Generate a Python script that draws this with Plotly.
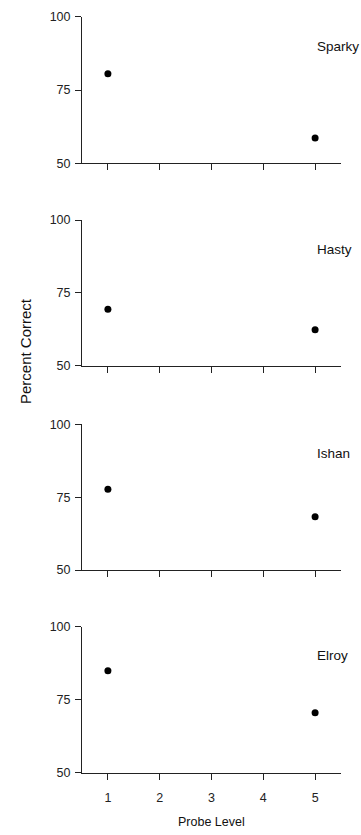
import plotly.graph_objects as go

subjects = ["Sparky", "Hasty", "Ishan", "Elroy"]
probe_levels = [1, 5]
sparky = [80.5, 58.6]
hasty = [69.4, 62.3]
ishan = [77.7, 68.3]
elroy = [84.9, 70.5]
series = [sparky, hasty, ishan, elroy]
x_ticks = [1, 2, 3, 4, 5]
y_ticks = [50, 75, 100]

W, H = 361, 835
# panel vertical pixel extents (top, bottom)
panels_px = [(16.7, 163.3), (220, 365.7), (424.3, 570), (626.7, 772.7)]

FONT = "Liberation Sans, Arial, sans-serif"

fig = go.Figure()
layout = dict(
    width=W, height=H,
    margin=dict(l=82, r=20, t=0, b=0, autoexpand=False),
    paper_bgcolor="white", plot_bgcolor="white",
    showlegend=False,
    font=dict(family=FONT, size=12, color="#111"),
)
annotations = []
for i, (name, vals) in enumerate(zip(subjects, series)):
    k = "" if i == 0 else str(i + 1)
    fig.add_trace(go.Scatter(
        x=probe_levels, y=vals, mode="markers",
        marker=dict(color="black", size=7),
        xaxis="x" + k, yaxis="y" + k, cliponaxis=False,
    ))
    top, bot = panels_px[i]
    last = (i == len(subjects) - 1)
    layout["xaxis" + k] = dict(
        domain=[0, 1], range=[0.5, 5.5], anchor="y" + k,
        tickvals=x_ticks, showticklabels=last,
        ticks="outside", ticklen=6, tickcolor="#222", tickwidth=1,
        showline=True, linecolor="#222", linewidth=1,
        showgrid=False, zeroline=False, fixedrange=True, automargin=False,
        ticklabelstandoff=7,
        tickfont=dict(family=FONT, size=12.5, color="#222"),
    )
    layout["yaxis" + k] = dict(
        domain=[1 - bot / H, 1 - top / H], range=[50, 100], anchor="x" + k,
        tickvals=y_ticks, ticks="outside", ticklen=6, tickcolor="#222", tickwidth=1,
        showline=True, linecolor="#222", linewidth=1,
        showgrid=False, zeroline=False, fixedrange=True, automargin=False,
        ticklabelstandoff=2,
        tickfont=dict(family=FONT, size=12.5, color="#222"),
    )
    annotations.append(dict(
        x=5, y=90, xref="x" + k, yref="y" + k, text=name, showarrow=False,
        xanchor="left", yanchor="middle",
        font=dict(family=FONT, size=13.5, color="#111"),
    ))

annotations.append(dict(
    x=0.5, y=1 - 821.7 / H, xref="paper", yref="paper", text="Probe Level",
    showarrow=False, xanchor="center", yanchor="middle",
    font=dict(family=FONT, size=12.5, color="#111"),
))
annotations.append(dict(
    x=(25 - 82) / (W - 82 - 20), y=1 - 351 / H, xref="paper", yref="paper",
    text="Percent Correct", textangle=-90, showarrow=False,
    xanchor="center", yanchor="middle",
    font=dict(family=FONT, size=15, color="#111"),
))
layout["annotations"] = annotations
fig.update_layout(**layout)
fig.write_html(
    "out.html",
    config={"displayModeBar": False},
    post_script="document.body.style.margin='0';document.body.style.overflow='hidden';",
)
